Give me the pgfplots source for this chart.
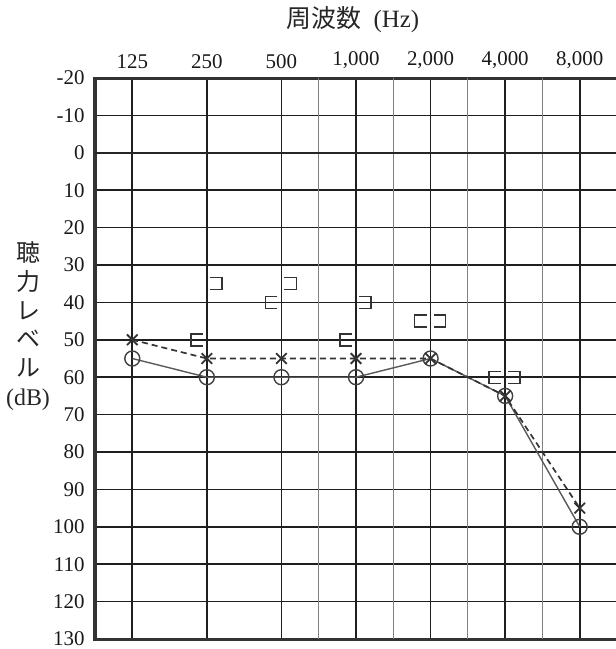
\documentclass[border=0pt]{standalone}
\usepackage{fontspec}
\setmainfont{Liberation Serif}
\newfontfamily\jp{Noto Sans CJK JP}
\usepackage{pgfplots}
\pgfplotsset{compat=1.18}
\usetikzlibrary{calc}

\pgfdeclareplotmark{lbr}{%
  \pgfpathmoveto{\pgfpoint{-4bp}{6bp}}%
  \pgfpathlineto{\pgfpoint{-16bp}{6bp}}%
  \pgfpathlineto{\pgfpoint{-16bp}{-6bp}}%
  \pgfpathlineto{\pgfpoint{-4bp}{-6bp}}%
  \pgfusepathqstroke}
\pgfdeclareplotmark{rbr}{%
  \pgfpathmoveto{\pgfpoint{3bp}{6bp}}%
  \pgfpathlineto{\pgfpoint{15bp}{6bp}}%
  \pgfpathlineto{\pgfpoint{15bp}{-6bp}}%
  \pgfpathlineto{\pgfpoint{3bp}{-6bp}}%
  \pgfusepathqstroke}

\begin{document}
\begin{tikzpicture}
\begin{axis}[
  scale only axis, width=522bp, height=561bp,
  xmin=-0.5, xmax=6.5, ymin=-20, ymax=130, y dir=reverse,
  xtick={0,...,6},
  xticklabels={125,250,500,{1,000},{2,000},{4,000},{8,000}},
  xticklabel pos=upper,
  ytick={-20,-10,...,130},
  yticklabels={-20,-10,0,10,20,30,40,50,60,70,80,90,100,110,120,130},
  extra x ticks={2.5,3.5,4.5,5.5},
  extra x tick labels={},
  extra x tick style={grid=major, major grid style={black!50, line width=0.8bp}, major tick length=0pt},
  extra y ticks={0},
  extra y tick labels={},
  extra y tick style={grid=major, major grid style={black!85, line width=2.6bp}, major tick length=0pt},
  grid=major,
  major grid style={black!88, line width=1.7bp},
  major tick length=0pt,
  axis line style={line width=3bp, black!80},
  tick label style={font=\fontsize{21}{24}\selectfont, text=black!90},
  yticklabel style={xshift=-7bp},
  xticklabel style={yshift=6bp},
]
\coordinate (bl) at (axis cs:-0.5,130);
\coordinate (tr) at (axis cs:6.5,-20);
\addplot[black!65, line width=1.4bp, mark=o, mark size=7.5bp,
  mark options={solid, line width=1.4bp, black!75}]
  coordinates {(0,55)(1,60)(2,60)(3,60)(4,55)(5,65)(6,100)};
\addplot[black!80, line width=1.7bp, dash pattern=on 6bp off 4bp, mark=x, mark size=7.5bp,
  mark options={solid, line width=1.8bp, black!80}]
  coordinates {(0,50)(1,55)(2,55)(3,55)(4,55)(5,65)(6,95)};
\addplot[only marks, mark=lbr, mark options={line width=1.4bp, black!80}]
  coordinates {(1,50)(2,40)(3,50)(4,45)(5,60)};
\addplot[only marks, mark=rbr, mark options={line width=1.4bp, black!80}]
  coordinates {(1,35)(2,35)(3,40)(4,45)(5,60)};
\end{axis}
\node[font=\fontsize{25}{28}\selectfont, text=black!85] at ($(bl)+(258bp,619bp)$) {{\jp 周波数}\hspace{12bp}(Hz)};
\node[align=center, font=\fontsize{24}{28.8}\selectfont, text=black!85] at ($(bl)+(-67bp,313bp)$)
  {{\jp 聴}\\{\jp 力}\\{\jp レ}\\{\jp ベ}\\{\jp ル}\\(dB)};
\pgfresetboundingbox
\path ($(bl)+(-95bp,-10bp)$) rectangle ($(tr)+(-1bp,78bp)$);
\end{tikzpicture}
\end{document}
